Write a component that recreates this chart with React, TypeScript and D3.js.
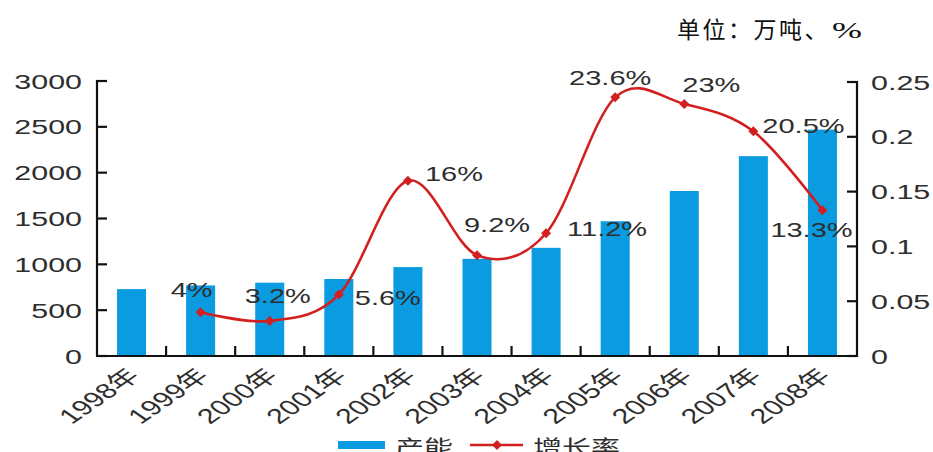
import React from "react";
import * as d3 from "d3";

const years = ["1998年", "1999年", "2000年", "2001年", "2002年", "2003年", "2004年", "2005年", "2006年", "2007年", "2008年"];
const capacity = [730, 770, 800, 840, 970, 1060, 1180, 1470, 1800, 2180, 2470];
const growthYears = ["1999年", "2000年", "2001年", "2002年", "2003年", "2004年", "2005年", "2006年", "2007年", "2008年"];
const growth = [0.04, 0.032, 0.056, 0.16, 0.092, 0.112, 0.236, 0.23, 0.205, 0.133];
const growthLabels = ["4%", "3.2%", "5.6%", "16%", "9.2%", "11.2%", "23.6%", "23%", "20.5%", "13.3%"];
const leftTicks = [0, 500, 1000, 1500, 2000, 2500, 3000];
const rightTicks = [0, 0.05, 0.1, 0.15, 0.2, 0.25];

// label placement per growth point: [dx, dy, anchor]
const labelPlace: [number, number, string][] = [
  [-9, -15, "middle"],
  [8, -18, "middle"],
  [16, 10, "start"],
  [17, 0, "start"],
  [20, -23, "middle"],
  [21, 3, "start"],
  [-5, -12, "middle"],
  [-2, -12, "start"],
  [9, 2, "start"],
  [-11, 27, "middle"],
];

const W = 933;
const H = 452;
const SX = 1.45; // the source picture is stretched sideways
const FONT = "'Liberation Sans', Arial, 'Noto Sans CJK SC', sans-serif";
const SERIF = "'Liberation Serif', 'Noto Sans CJK SC', serif";
const BLUE = "#0a9be0";
const RED = "#d22020";
const INK = "#2e2e2e";

export default function App() {
  const x = d3.scaleBand().domain(years).range([97, 857]);
  const yL = d3.scaleLinear().domain([0, 3000]).range([356, 81]);
  const yR = d3.scaleLinear().domain([0, 0.25]).range([356, 82]);
  const bw = x.bandwidth() * 0.42;
  const cx = (k: string) => (x(k) as number) + x.bandwidth() / 2;

  const line = d3
    .line<number>()
    .x((_d, i) => cx(growthYears[i]))
    .y((d) => yR(d))
    .curve(d3.curveCardinal.tension(0));

  const diamond = d3.symbol(d3.symbolSquare, 50)() as string;
  const boundaries = years.map((_y, i) => 97 + x.step() * i).slice(1);

  return (
    <svg width={W} height={H} style={{ position: "absolute", left: 0, top: 0, background: "#fff" }}>
      <text x={677} y={38} fontFamily={SERIF} fontSize={23} fill="#111" letterSpacing={2.5}>
        单位：万吨、
      </text>
      <text transform="translate(832,38) scale(1.5,1)" fontFamily={SERIF} fontSize={24} fill="#111">
        %
      </text>

      {capacity.map((v, i) => (
        <rect key={years[i]} x={cx(years[i]) - bw / 2} y={yL(v)} width={bw} height={356 - yL(v)} fill={BLUE} />
      ))}

      {/* axes */}
      <g stroke="#111" strokeWidth={2.2} fill="none">
        <line x1={97} x2={97} y1={80} y2={357} />
        <line x1={857} x2={857} y1={81} y2={357} />
        <line x1={96} x2={858} y1={356} y2={356} />
        {leftTicks.map((t) => (
          <line key={t} x1={97} x2={107} y1={yL(t)} y2={yL(t)} />
        ))}
        {rightTicks.map((t) => (
          <line key={t} x1={847} x2={857} y1={yR(t)} y2={yR(t)} />
        ))}
        {boundaries.map((b) => (
          <line key={b} x1={b} x2={b} y1={346} y2={356} />
        ))}
      </g>

      {leftTicks.map((t) => (
        <text
          key={t}
          transform={`translate(82,${yL(t)}) scale(${SX},1)`}
          textAnchor="end"
          dy="0.36em"
          fontFamily={FONT}
          fontSize={21}
          fill={INK}
        >
          {t}
        </text>
      ))}
      {rightTicks.map((t) => (
        <text
          key={t}
          transform={`translate(871,${yR(t)}) scale(${SX},1)`}
          textAnchor="start"
          dy="0.36em"
          fontFamily={FONT}
          fontSize={21}
          fill={INK}
        >
          {t === 0 ? "0" : String(t)}
        </text>
      ))}

      {years.map((yr) => (
        <text
          key={yr}
          transform={`translate(${cx(yr) + 2},372) scale(${SX},1) rotate(-45)`}
          textAnchor="end"
          dy="0.35em"
          fontFamily={FONT}
          fontSize={21}
          fill={INK}
        >
          {yr}
        </text>
      ))}

      <path d={line(growth) as string} fill="none" stroke={RED} strokeWidth={2.6} />
      {growth.map((g, i) => (
        <path
          key={growthYears[i]}
          d={diamond}
          transform={`translate(${cx(growthYears[i])},${yR(g)}) rotate(45)`}
          fill={RED}
        />
      ))}
      {growth.map((g, i) => {
        const [dx, dy, anchor] = labelPlace[i];
        return (
          <text
            key={growthLabels[i]}
            transform={`translate(${cx(growthYears[i]) + dx},${yR(g) + dy}) scale(${SX},1)`}
            textAnchor={anchor}
            fontFamily={FONT}
            fontSize={20}
            fill={INK}
          >
            {growthLabels[i]}
          </text>
        );
      })}

      {/* legend */}
      <rect x={338} y={441} width={47} height={8} fill={BLUE} />
      <text transform={`translate(395,455) scale(${SX},1)`} fontFamily={FONT} fontSize={20} fill={INK}>
        产能
      </text>
      <line x1={470} x2={523} y1={445} y2={445} stroke={RED} strokeWidth={2.4} />
      <path d={diamond} transform="translate(497,445) rotate(45)" fill={RED} />
      <text transform={`translate(533,455) scale(${SX},1)`} fontFamily={FONT} fontSize={20} fill={INK}>
        增长率
      </text>
    </svg>
  );
}
